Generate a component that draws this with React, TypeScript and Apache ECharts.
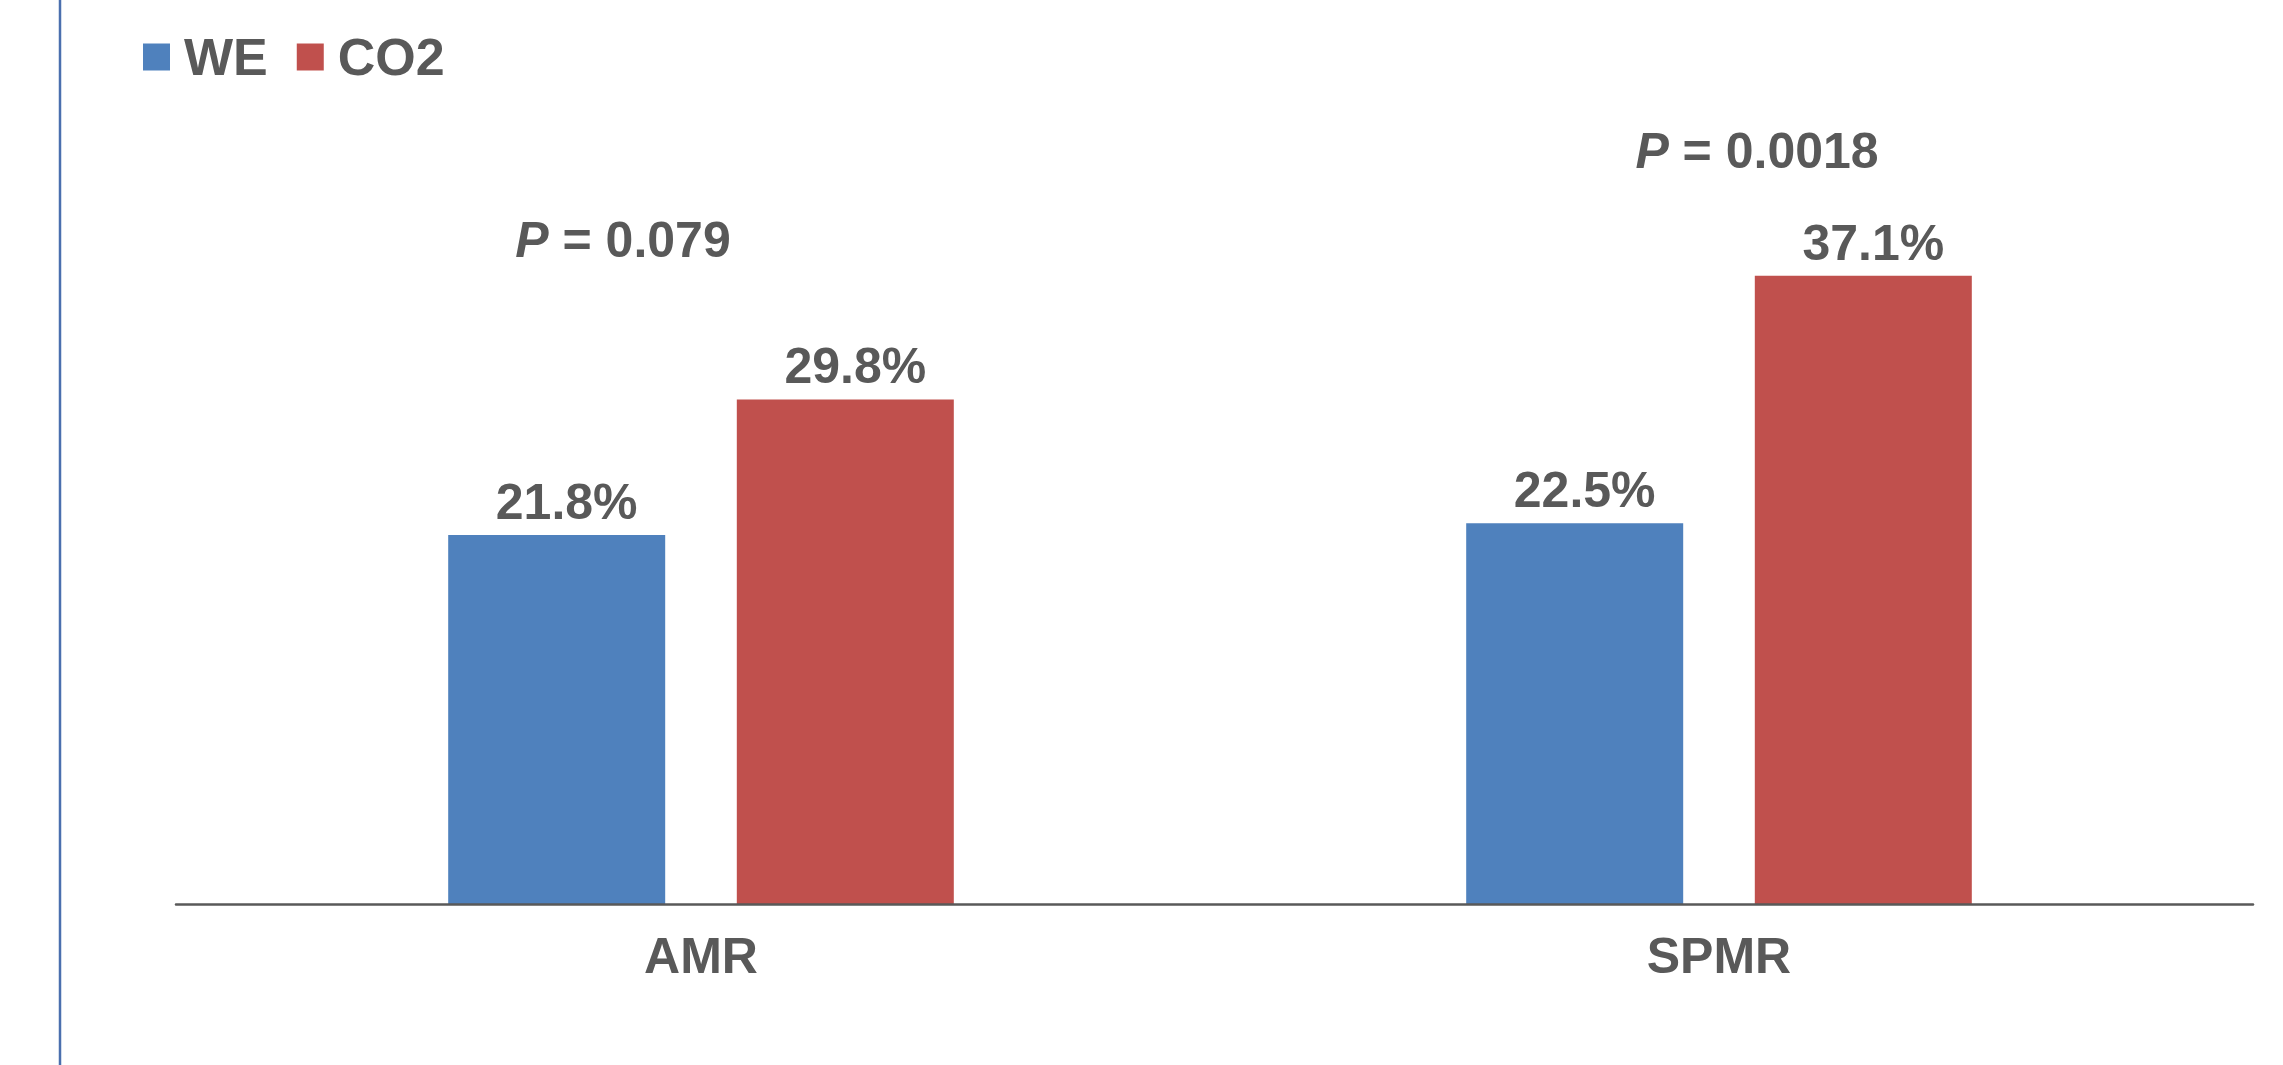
import React, { useEffect, useRef } from "react";
import * as echarts from "echarts";

const categories = ["AMR", "SPMR"];
const seriesNames = ["WE", "CO2"];
const weValues = [21.8, 22.5];
const co2Values = [29.8, 37.1];
const pLabels = ["0.079", "0.0018"];

const BLUE = "#4F81BD";
const RED = "#C0504D";
const TEXT = "#595959";
const FONT = "'Liberation Sans', Arial, sans-serif";

export default function App() {
  const ref = useRef<HTMLDivElement>(null);
  useEffect(() => {
    document.body.style.margin = "0";
    const chart = echarts.init(ref.current!, null, { renderer: "svg" });
    const labelStyle = {
      show: true,
      position: "top",
      distance: 8,
      offset: [10, 0],
      fontSize: 50,
      fontWeight: "bold",
      fontFamily: FONT,
      color: TEXT,
      formatter: (p: any) => Number(p.value).toFixed(1) + "%",
    };
    const pText = (val: string, x: number, y: number) => ({
      type: "text",
      x,
      y,
      z: 20,
      style: {
        text: "{i|P}{n| = " + val + "}",
        align: "center",
        verticalAlign: "middle",
        fill: TEXT,
        rich: {
          i: { fontSize: 50, fontWeight: "bold", fontStyle: "italic", fontFamily: FONT, fill: TEXT },
          n: { fontSize: 50, fontWeight: "bold", fontFamily: FONT, fill: TEXT },
        },
      },
    });
    chart.setOption({
      animation: false,
      backgroundColor: "#ffffff",
      legend: {
        left: 143,
        top: 31,
        padding: 0,
        itemWidth: 27,
        itemHeight: 27,
        itemGap: 29,
        icon: "rect",
        data: seriesNames,
        textStyle: {
          fontSize: 52,
          fontWeight: "bold",
          fontFamily: FONT,
          color: TEXT,
          padding: [0, 0, 0, 9],
        },
      },
      grid: [
        { left: 192, right: 55, top: 57, bottom: 160.5 },
        { left: 176, right: 30, top: 57, bottom: 160.5 },
      ],
      xAxis: [
        {
          type: "category",
          gridIndex: 0,
          data: categories,
          axisLine: { show: false },
          axisTick: { show: false },
          axisLabel: {
            margin: 26,
            fontSize: 50,
            fontWeight: "bold",
            fontFamily: FONT,
            color: TEXT,
          },
        },
        {
          type: "value",
          gridIndex: 1,
          min: 0,
          max: 1,
          z: 10,
          axisLine: { show: true, onZero: false, lineStyle: { color: TEXT, width: 2.5 } },
          axisTick: { show: false },
          axisLabel: { show: false },
          splitLine: { show: false },
        },
      ],
      yAxis: [
        { type: "value", gridIndex: 0, min: 0, max: 50, show: false, splitLine: { show: false } },
        { type: "value", gridIndex: 1, min: 0, max: 1, show: false, splitLine: { show: false } },
      ],
      series: [
        {
          name: seriesNames[0],
          type: "bar",
          data: weValues,
          barWidth: 217,
          barGap: "33%",
          itemStyle: { color: BLUE },
          label: labelStyle,
        },
        {
          name: seriesNames[1],
          type: "bar",
          data: co2Values,
          barWidth: 217,
          barGap: "33%",
          itemStyle: { color: RED },
          label: labelStyle,
        },
      ],
      graphic: [
        {
          type: "line",
          shape: { x1: 60, y1: 0, x2: 60, y2: 1065 },
          style: { stroke: "#4A6FAE", lineWidth: 2.5 },
        },
        pText(pLabels[0], 623, 240),
        pText(pLabels[1], 1757, 151),
      ],
    });
    return () => chart.dispose();
  }, []);
  return <div ref={ref} style={{ width: 2283, height: 1065, position: "absolute", left: 0, top: 0 }} />;
}
